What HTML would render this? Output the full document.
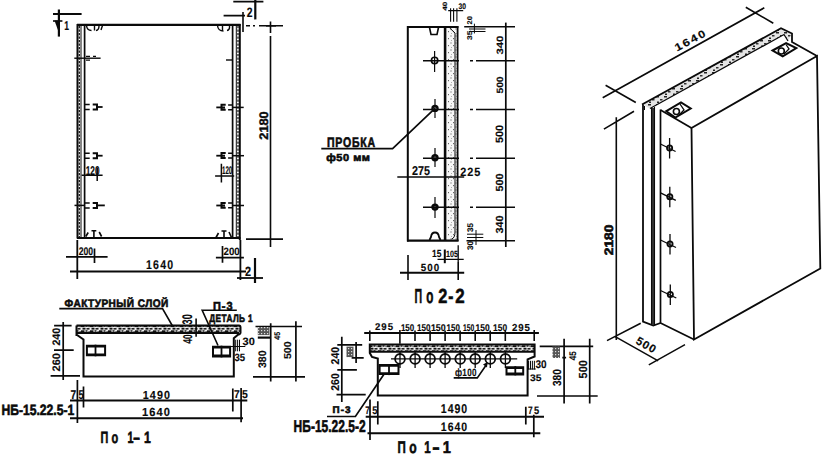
<!DOCTYPE html>
<html><head><meta charset="utf-8">
<style>
html,body{margin:0;padding:0;background:#fff;}
svg{display:block;}
text.h{stroke-width:0.6px;}
text.m{stroke-width:0.4px;}
text{font-family:"Liberation Sans",sans-serif;font-weight:bold;fill:#0a0a0a;stroke:#0a0a0a;stroke-width:0.15px;text-rendering:geometricPrecision;}
</style></head>
<body>
<svg width="837" height="465" viewBox="0 0 837 465">
<defs>
<pattern id="dots" width="5" height="7" patternUnits="userSpaceOnUse">
<rect width="5" height="7" fill="#f7f7f7"/>
<rect x="0.5" y="0.5" width="1" height="1" fill="#444"/>
<rect x="3" y="3" width="1" height="1.2" fill="#666"/>
<rect x="1" y="5" width="0.8" height="0.8" fill="#888"/>
</pattern>
<pattern id="isol" width="8" height="8" patternUnits="userSpaceOnUse">
<rect width="8" height="8" fill="#e4e4e4"/>
<rect x="0" y="0" width="3" height="1.5" fill="#222"/>
<rect x="4" y="3" width="2.5" height="1.5" fill="#333"/>
<rect x="1" y="5.5" width="2" height="1.5" fill="#222"/>
</pattern>
<pattern id="dark" width="3" height="4" patternUnits="userSpaceOnUse">
<rect width="3" height="4" fill="#333"/>
<rect x="0" y="1" width="1" height="1.5" fill="#ccc"/>
</pattern>
<pattern id="layer" width="9" height="5" patternUnits="userSpaceOnUse">
<rect width="9" height="5" fill="#eee"/>
<rect x="0" y="0.3" width="3.5" height="1.8" fill="#111"/>
<rect x="4.5" y="0.2" width="2" height="1.6" fill="#222"/>
<rect x="1.5" y="2.8" width="3" height="1.8" fill="#111"/>
<rect x="5.5" y="3" width="3" height="1.6" fill="#222"/>
<rect x="7.5" y="1" width="1.2" height="1.2" fill="#333"/>
</pattern>
<pattern id="hatch" width="3" height="3" patternUnits="userSpaceOnUse">
<rect width="3" height="3" fill="#555"/>
<rect x="0" y="0" width="1.2" height="1.2" fill="#ddd"/>
</pattern>
</defs>
<g fill="none" stroke="#0a0a0a" stroke-linecap="butt">
<path d="M79.3 26 V237" stroke-width="1.2" stroke-dasharray="2.2 1.3"/>
<path d="M238 26 V238" stroke-width="1.2" stroke-dasharray="2.2 1.3"/>
<path d="M77.5 24 V238.5 M239.8 24 V240" stroke-width="2.0" />
<path d="M81 25 V238 M236.3 25 V239" stroke-width="1.0" />
<path d="M84.6 25 V238 M232.6 25 V239" stroke-width="1.7" />
<path d="M77 24.8 H240.5" stroke-width="2.2" />
<path d="M77 238 H240.5" stroke-width="2.2" />
<path d="M246 25.8 H250 M253 25.8 H255 M259 25.8 H283" stroke-width="1.5" />
<path d="M246 239.2 H283" stroke-width="1.8" />
<path d="M270.5 21.5 V33 M270.5 36 V247" stroke-width="1.6" />
<path d="M266 25.8 H276" stroke-width="1.6" />
<text class="m" transform="translate(268.1,139.7) rotate(-90)" font-size="12.39" font-weight="normal" textLength="28.4" lengthAdjust="spacingAndGlyphs">2180</text>
<path d="M70 271.4 H246" stroke-width="2.0" />
<path d="M77.3 240 V279 M240.4 240 V280" stroke-width="1.8" />
<text x="146.0" y="268.7" font-size="12.68" font-weight="bold" textLength="28.4" lengthAdjust="spacingAndGlyphs" style="letter-spacing:1.5px">1640</text>
<path d="M66 256.9 H107.6 M94.5 248.6 V263.1" stroke-width="1.7" />
<text x="78.7" y="254.5" font-size="10.99" font-weight="bold" textLength="14.4" lengthAdjust="spacingAndGlyphs">200</text>
<path d="M215.9 257.7 H243.9 M222.5 245.9 V262.8" stroke-width="1.7" />
<text x="223.6" y="254.5" font-size="10.56" font-weight="bold" textLength="16.1" lengthAdjust="spacingAndGlyphs">200</text>
<path d="M81.6 175.3 H102.6 M97.2 168 V181" stroke-width="1.5" />
<text x="85.7" y="174.5" font-size="12.82" font-weight="bold" textLength="13.9" lengthAdjust="spacingAndGlyphs">120</text>
<path d="M215.1 175.9 H234.2 M221.4 163.8 V182.6" stroke-width="1.5" />
<text x="222.0" y="173.7" font-size="10.99" font-weight="bold" textLength="10.3" lengthAdjust="spacingAndGlyphs">120</text>
<path d="M74.3 58.2 H100.6" stroke-width="1.4" />
<path d="M86 56.3 H90 M86 60.2 H90 M93 56.3 H96" stroke-width="1.2" />
<path d="M85 104.5 H89.7 M85 109.5 H89.7" stroke-width="1.5" />
<path d="M92.7 104.5 H97 V109.6 H92.7" stroke-width="2.0" />
<path d="M97 107.0 H102.6" stroke-width="1.8" />
<path d="M85 153.2 H89.7 M85 158.2 H89.7" stroke-width="1.5" />
<path d="M92.7 153.2 H97 V158.29999999999998 H92.7" stroke-width="2.0" />
<path d="M97 155.7 H102.6" stroke-width="1.8" />
<path d="M85 202.9 H89.7 M85 207.9 H89.7" stroke-width="1.5" />
<path d="M92.7 202.9 H97 V208.0 H92.7" stroke-width="2.0" />
<path d="M97 205.4 H104.8" stroke-width="1.8" />
<path d="M74.5 205.4 H85" stroke-width="1.5" />
<path d="M232.4 104.9 H228.1 M232.4 109.7 H228.1" stroke-width="1.5" />
<path d="M225.7 104.80000000000001 H221.5 V109.7 H225.7 M221.5 107.4 H225" stroke-width="2.0" />
<path d="M221.5 107.4 H216.3" stroke-width="1.8" />
<path d="M232.4 107.4 H243.7" stroke-width="1.5" />
<path d="M232.4 153.2 H228.1 M232.4 158.0 H228.1" stroke-width="1.5" />
<path d="M225.7 153.1 H221.5 V158.0 H225.7 M221.5 155.7 H225" stroke-width="2.0" />
<path d="M221.5 155.7 H216.3" stroke-width="1.8" />
<path d="M232.4 155.7 H244" stroke-width="1.5" />
<path d="M232.4 203.0 H228.1 M232.4 207.8 H228.1" stroke-width="1.5" />
<path d="M225.7 202.9 H221.5 V207.8 H225.7 M221.5 205.5 H225" stroke-width="2.0" />
<path d="M221.5 205.5 H216.3" stroke-width="1.8" />
<path d="M232.4 205.5 H244" stroke-width="1.5" />
<path d="M226 60 H232.4" stroke-width="1.4" />
<path d="M86.5 25.5 Q87 30.5 91.5 30.5 M94.5 26 V30.5 M99 26 Q99 30 96 30.5 M102.5 25.5 L101 30" stroke-width="1.4" />
<path d="M217.5 25.5 Q218 31 223.5 31 M222.5 26 V31 M229.5 25.5 Q230 30 227 30.5" stroke-width="1.4" />
<path d="M85.8 236.5 L88.2 232.5 M91.5 230.7 H96.3 M93.9 230.7 V237 M99.2 232 L101.6 236.5" stroke-width="1.6" />
<path d="M216 237.5 L218.5 233 M221.5 231 H226.5 M224 231 V238 M229 232 L231.5 237.5" stroke-width="1.6" />
<path d="M53 14 H81.6" stroke-width="2.0" />
<path d="M58.9 9.5 V36.6" stroke-width="2.2" />
<path d="M53 21 H62.4" stroke-width="1.6" />
<path d="M54.5 20.5 L59.5 20.5 L59 33 Z" fill="#0a0a0a" stroke="none"/>
<text x="64.2" y="29.5" font-size="12.82" font-weight="bold" textLength="4.8" lengthAdjust="spacingAndGlyphs">1</text>
<path d="M233.3 1.6 H263.4 M223.6 15.6 H245 M243 12 V32" stroke-width="1.6" />
<path d="M255.3 0 V19.4" stroke-width="2.2" />
<text x="246.8" y="17.2" font-size="13.66" font-weight="bold" textLength="5.8" lengthAdjust="spacingAndGlyphs">2</text>
<path d="M237 278 H263" stroke-width="1.8" />
<path d="M255 258 V283" stroke-width="2.2" />
<text x="245.0" y="276.0" font-size="13.38" font-weight="bold" textLength="6.1" lengthAdjust="spacingAndGlyphs">2</text>
<rect x="447" y="27" width="10.5" height="213.5" fill="url(#dots)" stroke="none"/>
<path d="M407.8 26 V241.5" stroke-width="2.0" />
<path d="M407 27 H458.4" stroke-width="2.0" />
<path d="M407 240.6 H458.6" stroke-width="2.2" />
<path d="M445.1 26 V240.6" stroke-width="2.6" />
<path d="M457.6 26 V241" stroke-width="1.8" />
<path d="M449.7 28 L455 33 V232 Q455 238 451.7 239" stroke-width="1.0" />
<path d="M429.5 27.5 L431 34.5 H437 L438.5 27.5" stroke-width="1.6" />
<path d="M429.5 240 L431 237 Q431.5 232.5 435 232.5 Q438.5 232.5 439 237 L440.5 240" stroke-width="1.8" />
<circle cx="434.6" cy="60.5" r="3.2" stroke-width="1.6"/>
<circle cx="435" cy="108.4" r="3.7" fill="#0a0a0a" stroke="none"/>
<circle cx="435" cy="108.4" r="1.2" fill="#fff" stroke="none"/>
<circle cx="435" cy="157.7" r="3.7" fill="#0a0a0a" stroke="none"/>
<circle cx="435" cy="157.7" r="1.2" fill="#fff" stroke="none"/>
<circle cx="435" cy="207.1" r="3.7" fill="#0a0a0a" stroke="none"/>
<circle cx="435" cy="207.1" r="1.2" fill="#fff" stroke="none"/>
<path d="M434.6 51 V72 M435 99 V118 M435 148 V167 M435 197 V218" stroke-width="1.2" />
<path d="M423 60.8 H459 M470 60.8 H473 M476 60.8 H515" stroke-width="1.4" />
<path d="M423 109.5 H459 M470 109.5 H473 M476 109.5 H515" stroke-width="1.4" />
<path d="M423 158.3 H459 M470 158.3 H473 M476 158.3 H515" stroke-width="1.4" />
<path d="M423 207.3 H459 M470 207.3 H473 M476 207.3 H515" stroke-width="1.4" />
<path d="M505.8 22.6 V247" stroke-width="1.7" />
<path d="M464.2 26.8 H515" stroke-width="1.5" />
<path d="M466.5 240.7 H515" stroke-width="1.6" />
<text transform="translate(502.8,54.5) rotate(-90)" font-size="9.15" font-weight="bold" textLength="18.8" lengthAdjust="spacingAndGlyphs">340</text>
<text transform="translate(502.8,93.6) rotate(-90)" font-size="9.15" font-weight="bold" textLength="17.2" lengthAdjust="spacingAndGlyphs">500</text>
<text transform="translate(503.0,143.0) rotate(-90)" font-size="10.56" font-weight="bold" textLength="18.1" lengthAdjust="spacingAndGlyphs">500</text>
<text transform="translate(502.8,191.5) rotate(-90)" font-size="10.28" font-weight="bold" textLength="18.1" lengthAdjust="spacingAndGlyphs">500</text>
<text transform="translate(502.8,233.6) rotate(-90)" font-size="10.28" font-weight="bold" textLength="18.1" lengthAdjust="spacingAndGlyphs">340</text>
<path d="M397.3 177 H464.2" stroke-width="1.6" />
<text x="412.1" y="175.3" font-size="12.82" font-weight="bold" textLength="18.0" lengthAdjust="spacingAndGlyphs">275</text>
<text x="460.3" y="175.9" font-size="11.97" font-weight="bold" textLength="20.9" lengthAdjust="spacingAndGlyphs" style="letter-spacing:1px">225</text>
<path d="M450.6 8.2 V21.8 M453.6 8.2 V21.8 M456.9 8.2 V21.8 M448.2 10.6 H463.2" stroke-width="1.1" />
<text transform="translate(447.3,10.8) rotate(-90)" font-size="6.20" font-weight="bold" textLength="9.2" lengthAdjust="spacingAndGlyphs">40</text>
<text x="458.6" y="9.2" font-size="8.17" font-weight="bold" textLength="7.5" lengthAdjust="spacingAndGlyphs">30</text>
<path d="M469 29 H485.5 M469 31.5 H485.5 M474.4 23.7 V33.4" stroke-width="1.0" />
<text transform="translate(472.0,24.5) rotate(-90)" font-size="6.90" font-weight="bold" textLength="8.3" lengthAdjust="spacingAndGlyphs">20</text>
<text transform="translate(472.0,40.0) rotate(-90)" font-size="6.90" font-weight="bold" textLength="9.3" lengthAdjust="spacingAndGlyphs">35</text>
<path d="M467 234.2 H483.3 M467 237.5 H483.3 M476 230 V245" stroke-width="1.0" />
<text transform="translate(473.3,232.1) rotate(-90)" font-size="8.17" font-weight="bold" textLength="9.0" lengthAdjust="spacingAndGlyphs">35</text>
<text transform="translate(473.3,250.1) rotate(-90)" font-size="8.17" font-weight="bold" textLength="9.0" lengthAdjust="spacingAndGlyphs">30</text>
<text x="432.0" y="256.8" font-size="10.28" font-weight="bold" textLength="9.4" lengthAdjust="spacingAndGlyphs">15</text>
<text x="446.1" y="256.8" font-size="9.15" font-weight="bold" textLength="11.9" lengthAdjust="spacingAndGlyphs">105</text>
<path d="M437.5 259.3 H463.7 M458.2 245.2 V262" stroke-width="1.3" />
<path d="M444.8 249.5 V263.2" stroke-width="2.0" />
<path d="M400 272.7 H464.2" stroke-width="2.0" />
<path d="M408 255 V280 M458.2 262 V280" stroke-width="1.6" />
<text x="420.8" y="270.5" font-size="10.28" font-weight="bold" textLength="19.3" lengthAdjust="spacingAndGlyphs" style="letter-spacing:1px">500</text>
<text class="h" x="414.6" y="302.6" font-size="20.28" font-weight="bold" textLength="7.6" lengthAdjust="spacingAndGlyphs">П</text>
<text class="h" x="426.2" y="302.6" font-size="20.28" font-weight="bold" textLength="7.1" lengthAdjust="spacingAndGlyphs">о</text>
<text class="h" x="438.2" y="302.6" font-size="20.28" font-weight="normal" textLength="9.1" lengthAdjust="spacingAndGlyphs">2</text>
<text class="h" x="448.2" y="302.6" font-size="20.28" font-weight="normal" textLength="5.1" lengthAdjust="spacingAndGlyphs">-</text>
<text class="h" x="455.2" y="302.6" font-size="20.28" font-weight="normal" textLength="9.4" lengthAdjust="spacingAndGlyphs">2</text>
<text class="h" x="327.0" y="146.8" font-size="13.80" font-weight="bold" textLength="48.9" lengthAdjust="spacingAndGlyphs" style="letter-spacing:1px">ПРОБКА</text>
<path d="M321.3 148.7 H392.6 L435 108.4" stroke-width="1.7" />
<text class="h" x="326.2" y="160.7" font-size="10.14" font-weight="bold" textLength="44.3" lengthAdjust="spacingAndGlyphs" style="letter-spacing:0.5px">ф50 мм</text>
<polygon points="642,104.5 781,28.3 792,33.5 788,41 784,34.5 650,108.5" fill="url(#isol)" stroke="none"/>
<path d="M642 104.5 L781 28.3 L792 33.5 V42 L817 56" stroke-width="1.8" />
<path d="M650 108.5 L784 34.5 L788 41" stroke-width="1.3" />
<path d="M691.5 128 L817 56 L820.3 268.5 L694 339.5 Z" stroke-width="1.8" />
<path d="M660.5 110 L691.5 128" stroke-width="1.7" />
<path d="M660.5 109.5 V323 L694 339.5" stroke-width="1.7" />
<path d="M643 104.5 V321.7 L653.3 325.5 L660.5 323" stroke-width="1.8" />
<path d="M644.5 106 V110" stroke-width="1.0" />
<rect x="651.5" y="108" width="3" height="217" fill="url(#dark)" stroke="none"/>
<path d="M651.5 108 V325 M654.5 107 V325" stroke-width="1.1" />
<path d="M666.3 111.2 L681 102.5 L690.7 108.5 L675.3 117.6 Z" stroke-width="2.0" />
<circle cx="676.4" cy="111.5" r="3" stroke-width="1.6"/>
<path d="M680 104 L684 110 L679 115" stroke-width="1.3" />
<path d="M772.6 50.5 L786.1 43.2 L796.3 48.1 L782.7 56.3 Z" stroke-width="2.0" />
<circle cx="781.3" cy="51" r="3" stroke-width="1.6"/>
<path d="M786 44.5 L789 49 L784 54" stroke-width="1.3" />
<path d="M669.6 138 V158.5 M660.5 144 L675.6 151.5" stroke-width="1.3" />
<circle cx="669.6" cy="148" r="2.6" stroke-width="1.8"/>
<path d="M669.8 186.8 V207.3 M660.5 192.8 L675.8 200.3" stroke-width="1.3" />
<circle cx="669.8" cy="196.8" r="2.6" stroke-width="1.8"/>
<path d="M670 234 V254.5 M660.5 240 L676 247.5" stroke-width="1.3" />
<circle cx="670" cy="244" r="2.6" stroke-width="1.8"/>
<path d="M670.3 284.5 V305.0 M660.5 290.5 L676.3 298.0" stroke-width="1.3" />
<circle cx="670.3" cy="294.5" r="2.6" stroke-width="1.8"/>
<path d="M602.7 97.7 L764.3 7.8 M605.6 85.3 L635.8 102.5 M745.8 7.3 L773.3 23.2" stroke-width="1.6" />
<text transform="translate(677.0,51.5) rotate(-28)" font-size="10.56" font-weight="bold" textLength="35.0" lengthAdjust="spacingAndGlyphs" style="letter-spacing:1.5px">1640</text>
<path d="M616.3 117.2 V340 M603.9 129.1 L634 111.3 M607 340.6 L640.7 323.2" stroke-width="1.6" />
<text class="h" transform="translate(613.1,255.2) rotate(-90)" font-size="12.25" font-weight="normal" textLength="30.5" lengthAdjust="spacingAndGlyphs">2180</text>
<path d="M615.2 336.6 L658.2 360.8 M648.8 364.8 L685 344.7" stroke-width="1.5" />
<text transform="translate(635.0,343.0) rotate(30)" font-size="11.27" font-weight="bold" textLength="22.0" lengthAdjust="spacingAndGlyphs" style="letter-spacing:1px">500</text>
<rect x="77" y="326" width="163" height="7" fill="url(#layer)" stroke="none"/>
<path d="M76.5 325.6 H239 Q240.5 325.6 240.5 327.5 V333 Q240 334.5 238 334.8 L233.8 338.2 V376.5 H83.5 V339.5 L77 335 H76.5 V325.6" stroke-width="2.0" />
<path d="M77 333.1 H239" stroke-width="2.0" />
<path d="M85.9 344.7 H106.1 V356.3 H85.9 Z M87.9 347.5 V353.5 H104.1 V347.5 Z" fill="#0a0a0a" fill-rule="evenodd" stroke="none"/>
<rect x="94.6" y="344.7" width="1.8" height="11.600000000000023" fill="#0a0a0a" stroke="none"/>
<path d="M212 345.7 H231.1 V357.4 H212 Z M214.0 348.5 V354.59999999999997 H229.1 V348.5 Z" fill="#0a0a0a" fill-rule="evenodd" stroke="none"/>
<rect x="220.6" y="345.7" width="1.8" height="11.699999999999989" fill="#0a0a0a" stroke="none"/>
<text class="h" x="64.6" y="307.2" font-size="10.85" font-weight="bold" textLength="104.2" lengthAdjust="spacingAndGlyphs" style="letter-spacing:0.5px">ФАКТУРНЫЙ СЛОЙ</text>
<path d="M59.3 308.6 H162.5 L172.5 326" stroke-width="1.6" />
<text class="h" x="213.0" y="309.6" font-size="11.69" font-weight="bold" textLength="20.4" lengthAdjust="spacingAndGlyphs" style="letter-spacing:1px">П-3</text>
<path d="M236.8 310.3 H202.2 L218 345.5" stroke-width="1.6" />
<text class="h" x="209.3" y="322.4" font-size="10.70" font-weight="bold" textLength="43.8" lengthAdjust="spacingAndGlyphs" style="letter-spacing:0.5px">ДЕТАЛЬ 1</text>
<path d="M196.1 318.6 V336.7" stroke-width="1.6" />
<text transform="translate(191.8,324.4) rotate(-90)" font-size="13.94" font-weight="bold" textLength="10.2" lengthAdjust="spacingAndGlyphs">30</text>
<text transform="translate(192.2,343.6) rotate(-90)" font-size="12.68" font-weight="bold" textLength="9.2" lengthAdjust="spacingAndGlyphs">40</text>
<path d="M235.7 339.7 V351.3 M237.6 339.7 V351.3 M239.5 339.7 V351.3 M230.8 346.5 H245.3" stroke-width="1.0" />
<text x="242.6" y="344.7" font-size="10.70" font-weight="bold" textLength="12.2" lengthAdjust="spacingAndGlyphs">30</text>
<text x="234.4" y="360.5" font-size="10.56" font-weight="bold" textLength="10.6" lengthAdjust="spacingAndGlyphs">35</text>
<path d="M255.5 326.5 H302 M253 376.8 H305 M270.7 323.2 V381.4 M295.9 321.3 V381.4" stroke-width="1.7" />
<rect x="257.8" y="327.1" width="11.6" height="8" fill="url(#hatch)" stroke="none"/>
<path d="M257.8 337.6 H271" stroke-width="2.2" />
<text transform="translate(266.2,368.1) rotate(-90)" font-size="10.85" font-weight="bold" textLength="17.6" lengthAdjust="spacingAndGlyphs">380</text>
<text transform="translate(291.4,359.1) rotate(-90)" font-size="10.00" font-weight="bold" textLength="17.6" lengthAdjust="spacingAndGlyphs">500</text>
<text transform="translate(279.7,339.7) rotate(-90)" font-size="8.17" font-weight="bold" textLength="7.8" lengthAdjust="spacingAndGlyphs">45</text>
<path d="M63.2 322.1 V380.1 M54.1 325.6 H71.6 M54 350.1 H73.7 M50.6 375.9 H80" stroke-width="1.7" />
<text transform="translate(59.7,345.6) rotate(-90)" font-size="10.85" font-weight="bold" textLength="17.7" lengthAdjust="spacingAndGlyphs">240</text>
<text transform="translate(59.7,371.4) rotate(-90)" font-size="10.85" font-weight="bold" textLength="18.3" lengthAdjust="spacingAndGlyphs">260</text>
<path d="M70 400.6 H247.3 M70 418.2 H243" stroke-width="2.0" />
<path d="M77.4 380 V423 M83.5 386.6 V407.6 M232.8 388.4 V411.6 M241.1 387.9 V422.3" stroke-width="1.7" />
<text x="70.5" y="399.0" font-size="12.82" font-weight="bold" textLength="5.7" lengthAdjust="spacingAndGlyphs">7</text>
<text x="78.5" y="399.0" font-size="12.82" font-weight="bold" textLength="5.2" lengthAdjust="spacingAndGlyphs">5</text>
<text x="233.9" y="398.1" font-size="11.41" font-weight="bold" textLength="5.7" lengthAdjust="spacingAndGlyphs">7</text>
<text x="241.9" y="398.1" font-size="11.41" font-weight="bold" textLength="5.8" lengthAdjust="spacingAndGlyphs">5</text>
<text x="142.8" y="398.9" font-size="11.69" font-weight="bold" textLength="28.3" lengthAdjust="spacingAndGlyphs" style="letter-spacing:1.2px">1490</text>
<text x="142.0" y="415.9" font-size="11.69" font-weight="bold" textLength="29.1" lengthAdjust="spacingAndGlyphs" style="letter-spacing:1.2px">1640</text>
<text class="h" x="1.4" y="414.9" font-size="14.93" font-weight="bold" textLength="72.9" lengthAdjust="spacingAndGlyphs">НБ-15.22.5-1</text>
<text class="h" x="100.5" y="442.6" font-size="16.20" font-weight="bold" textLength="7.8" lengthAdjust="spacingAndGlyphs">П</text>
<text class="h" x="111.6" y="442.6" font-size="16.20" font-weight="bold" textLength="6.7" lengthAdjust="spacingAndGlyphs">о</text>
<text class="h" x="127.4" y="442.6" font-size="16.20" font-weight="normal" textLength="6.0" lengthAdjust="spacingAndGlyphs">1</text>
<text class="h" x="133.1" y="442.6" font-size="16.20" font-weight="normal" textLength="7.1" lengthAdjust="spacingAndGlyphs">-</text>
<text class="h" x="143.9" y="442.6" font-size="16.20" font-weight="normal" textLength="6.8" lengthAdjust="spacingAndGlyphs">1</text>
<rect x="370" y="345" width="164.5" height="6.5" fill="url(#layer)" stroke="none"/>
<path d="M369.8 344.5 H534.6 V356.5 L527.6 359.4 V395.5 H377.8 V358.6 L372 357 L369.8 353 Z" stroke-width="2.0" />
<path d="M370 351.8 H534" stroke-width="2.0" />
<circle cx="400.0" cy="358.9" r="4.9" stroke-width="1.8"/>
<circle cx="415.1" cy="358.9" r="4.9" stroke-width="1.8"/>
<circle cx="430.1" cy="358.9" r="4.9" stroke-width="1.8"/>
<circle cx="445.1" cy="358.9" r="4.9" stroke-width="1.8"/>
<circle cx="460.2" cy="358.9" r="4.9" stroke-width="1.8"/>
<circle cx="475.2" cy="358.9" r="4.9" stroke-width="1.8"/>
<circle cx="490.3" cy="358.9" r="4.9" stroke-width="1.8"/>
<circle cx="505.4" cy="358.9" r="4.9" stroke-width="1.8"/>
<path d="M400.0 352 V368 M415.1 352 V368 M430.1 352 V368 M445.1 352 V368 M460.2 352 V368 M475.2 352 V368 M490.3 352 V368 M505.4 352 V368 M391 358.9 H517.2" stroke-width="1.3" />
<path d="M364.2 333 H538.9" stroke-width="1.9" />
<path d="M369.8 330.4 V340.9 M399.9 330 V343.7 M534.2 330 V340.9 M415.0 330.4 V340.9 M430.1 330.4 V340.9 M445.1 330.4 V340.9 M460.1 330.4 V340.9 M475.2 330.4 V340.9 M490.2 330.4 V340.9 M505.3 330.4 V340.9" stroke-width="1.6" />
<text x="375.0" y="329.7" font-size="9.86" font-weight="bold" textLength="19.0" lengthAdjust="spacingAndGlyphs" style="letter-spacing:1px">295</text>
<text x="511.9" y="331.0" font-size="10.14" font-weight="bold" textLength="19.0" lengthAdjust="spacingAndGlyphs" style="letter-spacing:1px">295</text>
<text x="400.9" y="330.5" font-size="9.86" font-weight="bold" textLength="13.3" lengthAdjust="spacingAndGlyphs">150</text>
<text x="416.9" y="330.5" font-size="9.86" font-weight="bold" textLength="13.5" lengthAdjust="spacingAndGlyphs">150</text>
<text x="430.9" y="330.5" font-size="9.86" font-weight="bold" textLength="14.8" lengthAdjust="spacingAndGlyphs">150</text>
<text x="446.6" y="330.5" font-size="9.86" font-weight="bold" textLength="13.3" lengthAdjust="spacingAndGlyphs">150</text>
<text x="463.0" y="330.5" font-size="9.86" font-weight="bold" textLength="11.3" lengthAdjust="spacingAndGlyphs">150</text>
<text x="475.6" y="330.5" font-size="9.86" font-weight="bold" textLength="14.1" lengthAdjust="spacingAndGlyphs">150</text>
<text x="493.1" y="330.5" font-size="9.86" font-weight="bold" textLength="14.0" lengthAdjust="spacingAndGlyphs">150</text>
<path d="M378.6 364 H399.5 V375.1 H378.6 Z M380.6 366.8 V372.3 H397.5 V366.8 Z" fill="#0a0a0a" fill-rule="evenodd" stroke="none"/>
<rect x="388.1" y="364" width="1.8" height="11.100000000000023" fill="#0a0a0a" stroke="none"/>
<path d="M505.5 366.2 H524.2 V375.4 H505.5 Z M507.5 369.0 V372.59999999999997 H522.2 V369.0 Z" fill="#0a0a0a" fill-rule="evenodd" stroke="none"/>
<rect x="514.4" y="366.2" width="1.8" height="9.199999999999989" fill="#0a0a0a" stroke="none"/>
<text x="454.9" y="376.0" font-size="10.56" font-weight="bold" textLength="22.1" lengthAdjust="spacingAndGlyphs" style="letter-spacing:0.5px">ф100</text>
<path d="M453.7 377.9 H477.3 L486.9 364" stroke-width="1.6" />
<path d="M483 364.5 L487.5 362 L487 367.5 Z" fill="#0a0a0a" stroke="none"/>
<path d="M528.6 360.8 V369.5 M530.5 360.8 V369.5 M532.4 360.8 V369.5 M534.4 360.8 V369.5 M528 369 H535.8" stroke-width="1.0" />
<text x="535.4" y="367.6" font-size="10.99" font-weight="bold" textLength="11.1" lengthAdjust="spacingAndGlyphs">30</text>
<text x="530.1" y="381.1" font-size="9.44" font-weight="bold" textLength="11.4" lengthAdjust="spacingAndGlyphs">35</text>
<path d="M539.7 346.3 H593.2 M537 396 H597.7 M564.1 338.8 V403.5 M589.7 338.8 V403.5 M562.3 357.6 H566.1" stroke-width="1.7" />
<rect x="552.5" y="346.5" width="7.5" height="11.5" fill="url(#hatch)" stroke="none"/>
<text transform="translate(560.8,386.0) rotate(-90)" font-size="11.69" font-weight="bold" textLength="16.8" lengthAdjust="spacingAndGlyphs">380</text>
<text transform="translate(587.2,378.4) rotate(-90)" font-size="11.69" font-weight="bold" textLength="18.2" lengthAdjust="spacingAndGlyphs">500</text>
<text transform="translate(575.9,360.2) rotate(-90)" font-size="9.58" font-weight="bold" textLength="9.0" lengthAdjust="spacingAndGlyphs">45</text>
<path d="M341.8 336.8 V402 M337.3 344.8 H362.2 M337.3 369.9 H356.9 M336.5 394.6 H365.7 M356.1 342 V363.1 M351.6 357.9 H363.7" stroke-width="1.7" />
<rect x="346.5" y="346.6" width="7" height="10.5" fill="url(#hatch)" stroke="none"/>
<text transform="translate(339.0,364.4) rotate(-90)" font-size="11.27" font-weight="bold" textLength="17.5" lengthAdjust="spacingAndGlyphs">240</text>
<text transform="translate(339.0,390.7) rotate(-90)" font-size="11.27" font-weight="bold" textLength="17.4" lengthAdjust="spacingAndGlyphs">260</text>
<text class="h" x="332.6" y="412.5" font-size="9.72" font-weight="bold" textLength="18.9" lengthAdjust="spacingAndGlyphs" style="letter-spacing:1px">П-3</text>
<path d="M327 416.5 H355.4 L383.8 374.6" stroke-width="1.7" />
<text class="h" x="293.6" y="432.3" font-size="17.04" font-weight="bold" textLength="72.0" lengthAdjust="spacingAndGlyphs">НБ-15.22.5-2</text>
<path d="M365.7 416.8 H544 M367.5 433.3 H540.3" stroke-width="2.0" />
<path d="M370 399.6 V440 M377.8 401.3 V424.5 M525.8 406.7 V424.4 M533.8 414.7 V437.3 M537 396 V396" stroke-width="1.7" />
<text x="365.3" y="413.8" font-size="10.99" font-weight="bold" textLength="4.4" lengthAdjust="spacingAndGlyphs">7</text>
<text x="372.2" y="413.8" font-size="10.99" font-weight="bold" textLength="5.2" lengthAdjust="spacingAndGlyphs">5</text>
<text x="528.0" y="413.7" font-size="10.70" font-weight="bold" textLength="4.7" lengthAdjust="spacingAndGlyphs">7</text>
<text x="534.0" y="413.7" font-size="10.70" font-weight="bold" textLength="5.2" lengthAdjust="spacingAndGlyphs">5</text>
<text x="440.8" y="413.2" font-size="12.82" font-weight="bold" textLength="27.4" lengthAdjust="spacingAndGlyphs" style="letter-spacing:1.2px">1490</text>
<text x="440.8" y="430.9" font-size="12.25" font-weight="bold" textLength="27.4" lengthAdjust="spacingAndGlyphs" style="letter-spacing:1.2px">1640</text>
<text class="h" x="397.4" y="452.5" font-size="16.90" font-weight="bold" textLength="8.3" lengthAdjust="spacingAndGlyphs">П</text>
<text class="h" x="409.3" y="452.5" font-size="16.90" font-weight="bold" textLength="7.4" lengthAdjust="spacingAndGlyphs">о</text>
<text class="h" x="424.3" y="452.5" font-size="16.90" font-weight="normal" textLength="6.4" lengthAdjust="spacingAndGlyphs">1</text>
<text class="h" x="432.3" y="452.5" font-size="16.90" font-weight="normal" textLength="7.4" lengthAdjust="spacingAndGlyphs">-</text>
<text class="h" x="442.8" y="452.5" font-size="16.90" font-weight="normal" textLength="8.1" lengthAdjust="spacingAndGlyphs">1</text>
</g>
</svg>
</body></html>
